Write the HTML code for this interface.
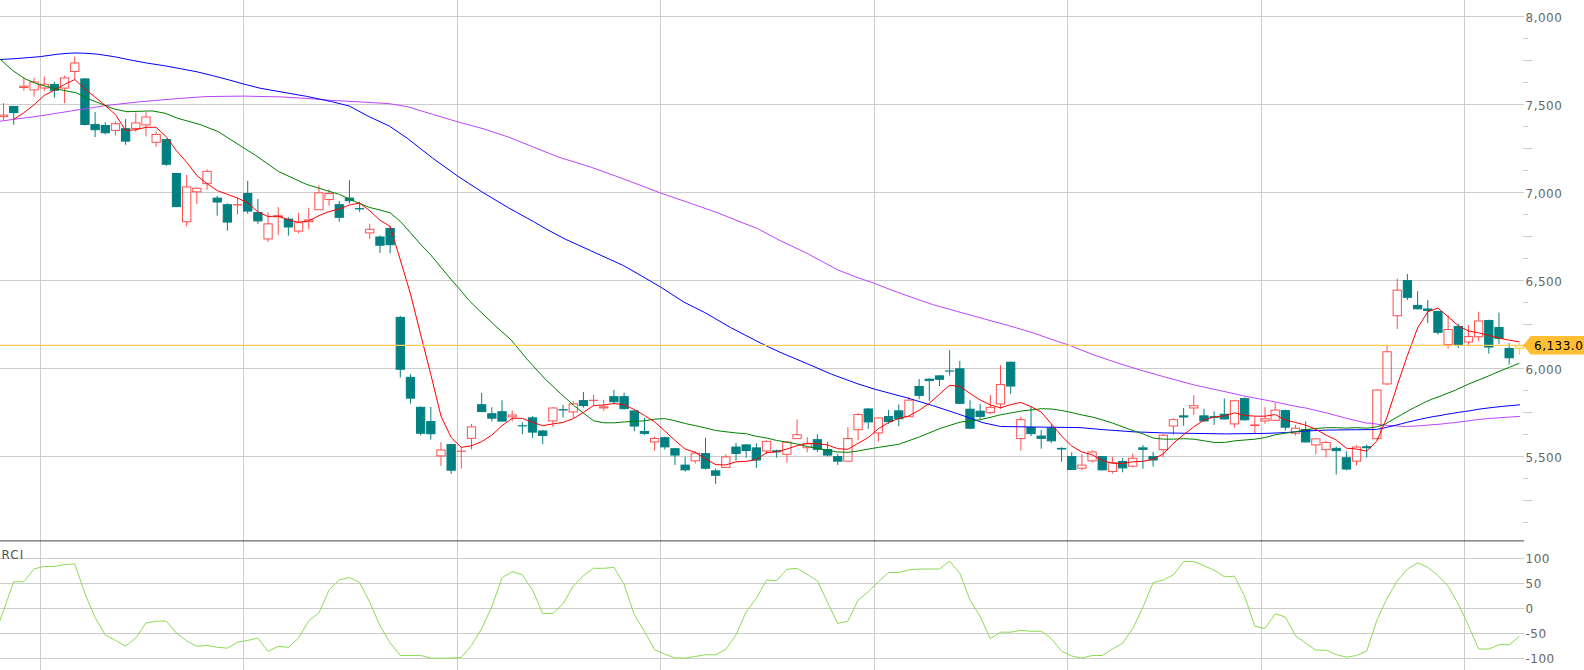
<!DOCTYPE html>
<html lang="ja"><head><meta charset="utf-8"><title>Chart</title>
<style>
html,body{margin:0;padding:0;background:#fff;overflow:hidden}
svg{display:block}
text{font-family:"DejaVu Sans","Liberation Sans",sans-serif;font-size:12px;fill:#666;letter-spacing:0.5px}
.g{stroke:#ccc;stroke-width:1;fill:none;shape-rendering:crispEdges}
.tk{stroke:#ccc;stroke-width:1;shape-rendering:crispEdges}
.ma{fill:none;stroke-width:1;stroke-linejoin:round}
.t rect{fill:#008080;stroke:#008080}
.t line{stroke:#008080}
.r rect{fill:none;stroke:#ff4e4e}
.r line{stroke:#ff4e4e}
.y rect{fill:none;stroke:#ffcc00}
.y line{stroke:#ffcc00}
</style></head><body>
<svg width="1584" height="670" viewBox="0 0 1584 670">
<rect width="1584" height="670" fill="#fff"/>
<g class="g">
<line x1="0" y1="16.5" x2="1524" y2="16.5"/>
<line x1="0" y1="104.5" x2="1524" y2="104.5"/>
<line x1="0" y1="192.5" x2="1524" y2="192.5"/>
<line x1="0" y1="280.5" x2="1524" y2="280.5"/>
<line x1="0" y1="368.5" x2="1524" y2="368.5"/>
<line x1="0" y1="456.5" x2="1524" y2="456.5"/>
<line x1="0" y1="558.5" x2="1524" y2="558.5"/>
<line x1="0" y1="583.5" x2="1524" y2="583.5"/>
<line x1="0" y1="608.5" x2="1524" y2="608.5"/>
<line x1="0" y1="633.5" x2="1524" y2="633.5"/>
<line x1="0" y1="658.5" x2="1524" y2="658.5"/>
<line x1="40.5" y1="0" x2="40.5" y2="670"/>
<line x1="243.5" y1="0" x2="243.5" y2="670"/>
<line x1="457.5" y1="0" x2="457.5" y2="670"/>
<line x1="660.5" y1="0" x2="660.5" y2="670"/>
<line x1="874.5" y1="0" x2="874.5" y2="670"/>
<line x1="1067.5" y1="0" x2="1067.5" y2="670"/>
<line x1="1261.5" y1="0" x2="1261.5" y2="670"/>
<line x1="1464.5" y1="0" x2="1464.5" y2="670"/>
</g>
<g class="tk">
<line x1="1523" y1="38.50" x2="1528" y2="38.50"/>
<line x1="1523" y1="60.50" x2="1532" y2="60.50"/>
<line x1="1523" y1="82.50" x2="1528" y2="82.50"/>
<line x1="1523" y1="126.50" x2="1528" y2="126.50"/>
<line x1="1523" y1="148.50" x2="1532" y2="148.50"/>
<line x1="1523" y1="170.50" x2="1528" y2="170.50"/>
<line x1="1523" y1="214.50" x2="1528" y2="214.50"/>
<line x1="1523" y1="236.50" x2="1532" y2="236.50"/>
<line x1="1523" y1="258.50" x2="1528" y2="258.50"/>
<line x1="1523" y1="302.50" x2="1528" y2="302.50"/>
<line x1="1523" y1="324.50" x2="1532" y2="324.50"/>
<line x1="1523" y1="346.50" x2="1528" y2="346.50"/>
<line x1="1523" y1="390.50" x2="1528" y2="390.50"/>
<line x1="1523" y1="412.50" x2="1532" y2="412.50"/>
<line x1="1523" y1="434.50" x2="1528" y2="434.50"/>
<line x1="1523" y1="478.50" x2="1528" y2="478.50"/>
<line x1="1523" y1="500.50" x2="1532" y2="500.50"/>
<line x1="1523" y1="522.50" x2="1528" y2="522.50"/>
</g>
<line x1="0" y1="540.9" x2="1524" y2="540.9" stroke="#444" stroke-width="1"/>
<g class="r"><line x1="3.55" y1="103.07" x2="3.55" y2="115.09"/><line x1="3.55" y1="116.63" x2="3.55" y2="120.30"/><rect x="-0.60" y="115.09" width="8.3" height="1.54"/></g>
<g class="t"><line x1="13.72" y1="105.96" x2="13.72" y2="124.75"/><rect x="9.57" y="106.46" width="8.3" height="6.11"/></g>
<g class="r"><line x1="23.90" y1="77.44" x2="23.90" y2="86.19"/><line x1="23.90" y1="87.47" x2="23.90" y2="90.76"/><rect x="19.75" y="86.19" width="8.3" height="1.28"/></g>
<g class="r"><line x1="34.07" y1="78.07" x2="34.07" y2="82.00"/><line x1="34.07" y1="89.88" x2="34.07" y2="96.73"/><rect x="29.92" y="82.00" width="8.3" height="7.88"/></g>
<g class="r"><line x1="44.24" y1="76.42" x2="44.24" y2="84.28"/><line x1="44.24" y1="87.98" x2="44.24" y2="90.76"/><rect x="40.09" y="84.28" width="8.3" height="3.70"/></g>
<g class="t"><line x1="54.41" y1="81.88" x2="54.41" y2="97.74"/><rect x="50.27" y="84.54" width="8.3" height="5.72"/></g>
<g class="r"><line x1="64.59" y1="75.53" x2="64.59" y2="77.94"/><line x1="64.59" y1="88.10" x2="64.59" y2="103.07"/><rect x="60.44" y="77.94" width="8.3" height="10.16"/></g>
<g class="r"><line x1="74.76" y1="56.50" x2="74.76" y2="62.96"/><line x1="74.76" y1="71.48" x2="74.76" y2="79.34"/><rect x="70.61" y="62.96" width="8.3" height="8.52"/></g>
<g class="t"><line x1="84.93" y1="78.07" x2="84.93" y2="125.38"/><rect x="80.78" y="78.95" width="8.3" height="45.55"/></g>
<g class="t"><line x1="95.11" y1="112.06" x2="95.11" y2="137.18"/><rect x="90.96" y="124.61" width="8.3" height="5.09"/></g>
<g class="t"><line x1="105.28" y1="122.21" x2="105.28" y2="134.52"/><rect x="101.13" y="125.50" width="8.3" height="7.25"/></g>
<g class="r"><line x1="115.45" y1="121.32" x2="115.45" y2="123.72"/><line x1="115.45" y1="130.34" x2="115.45" y2="135.53"/><rect x="111.30" y="123.72" width="8.3" height="6.62"/></g>
<g class="t"><line x1="125.63" y1="119.04" x2="125.63" y2="144.80"/><rect x="121.48" y="128.67" width="8.3" height="12.45"/></g>
<g class="r"><line x1="135.80" y1="112.69" x2="135.80" y2="122.96"/><line x1="135.80" y1="128.43" x2="135.80" y2="131.73"/><rect x="131.65" y="122.96" width="8.3" height="5.47"/></g>
<g class="r"><line x1="145.97" y1="112.06" x2="145.97" y2="117.00"/><line x1="145.97" y1="124.88" x2="145.97" y2="136.42"/><rect x="141.82" y="117.00" width="8.3" height="7.88"/></g>
<g class="r"><line x1="156.15" y1="131.47" x2="156.15" y2="134.51"/><line x1="156.15" y1="142.27" x2="156.15" y2="146.70"/><rect x="152.00" y="134.51" width="8.3" height="7.76"/></g>
<g class="t"><line x1="166.32" y1="138.71" x2="166.32" y2="165.92"/><rect x="162.17" y="139.59" width="8.3" height="24.69"/></g>
<g class="t"><line x1="176.49" y1="172.98" x2="176.49" y2="207.12"/><rect x="172.34" y="173.48" width="8.3" height="33.14"/></g>
<g class="r"><line x1="186.66" y1="174.95" x2="186.66" y2="186.94"/><line x1="186.66" y1="221.73" x2="186.66" y2="226.33"/><rect x="182.51" y="186.94" width="8.3" height="34.79"/></g>
<g class="r"><line x1="196.84" y1="187.43" x2="196.84" y2="188.25"/><line x1="196.84" y1="191.85" x2="196.84" y2="204.17"/><rect x="192.69" y="188.25" width="8.3" height="3.60"/></g>
<g class="r"><line x1="207.01" y1="169.37" x2="207.01" y2="171.35"/><line x1="207.01" y1="183.64" x2="207.01" y2="189.89"/><rect x="202.86" y="171.35" width="8.3" height="12.29"/></g>
<g class="t"><line x1="217.18" y1="195.96" x2="217.18" y2="215.66"/><rect x="213.03" y="198.10" width="8.3" height="3.93"/></g>
<g class="t"><line x1="227.36" y1="203.35" x2="227.36" y2="230.76"/><rect x="223.21" y="204.67" width="8.3" height="17.38"/></g>
<g class="r"><line x1="237.53" y1="197.60" x2="237.53" y2="204.67"/><line x1="237.53" y1="204.98" x2="237.53" y2="214.51"/><rect x="233.38" y="204.67" width="8.3" height="0.31"/></g>
<g class="t"><line x1="247.70" y1="180.86" x2="247.70" y2="213.69"/><rect x="243.55" y="193.51" width="8.3" height="17.55"/></g>
<g class="t"><line x1="257.88" y1="198.92" x2="257.88" y2="223.87"/><rect x="253.72" y="212.55" width="8.3" height="8.36"/></g>
<g class="r"><line x1="268.05" y1="212.38" x2="268.05" y2="223.87"/><line x1="268.05" y1="238.96" x2="268.05" y2="241.92"/><rect x="263.90" y="223.87" width="8.3" height="15.09"/></g>
<g class="r"><line x1="278.22" y1="207.12" x2="278.22" y2="215.83"/><line x1="278.22" y1="216.80" x2="278.22" y2="234.87"/><rect x="274.07" y="215.83" width="8.3" height="0.97"/></g>
<g class="t"><line x1="288.39" y1="217.30" x2="288.39" y2="235.69"/><rect x="284.24" y="219.11" width="8.3" height="7.87"/></g>
<g class="r"><line x1="298.57" y1="212.87" x2="298.57" y2="222.73"/><line x1="298.57" y1="231.08" x2="298.57" y2="233.22"/><rect x="294.42" y="222.73" width="8.3" height="8.35"/></g>
<g class="r"><line x1="308.74" y1="207.78" x2="308.74" y2="219.94"/><line x1="308.74" y1="221.73" x2="308.74" y2="229.28"/><rect x="304.59" y="219.94" width="8.3" height="1.79"/></g>
<g class="r"><line x1="318.91" y1="185.29" x2="318.91" y2="192.85"/><rect x="314.76" y="192.85" width="8.3" height="16.89"/></g>
<g class="r"><line x1="329.09" y1="189.40" x2="329.09" y2="193.51"/><line x1="329.09" y1="199.57" x2="329.09" y2="205.81"/><rect x="324.94" y="193.51" width="8.3" height="6.06"/></g>
<g class="t"><line x1="339.26" y1="201.21" x2="339.26" y2="221.73"/><rect x="335.11" y="204.67" width="8.3" height="12.62"/></g>
<g class="t"><line x1="349.43" y1="180.04" x2="349.43" y2="203.35"/><rect x="345.28" y="198.10" width="8.3" height="2.61"/></g>
<g class="t"><line x1="359.61" y1="201.71" x2="359.61" y2="211.88"/><rect x="355.46" y="208.61" width="8.3" height="0.31"/></g>
<g class="r"><line x1="369.78" y1="223.87" x2="369.78" y2="229.29"/><line x1="369.78" y1="232.89" x2="369.78" y2="239.13"/><rect x="365.63" y="229.29" width="8.3" height="3.60"/></g>
<g class="t"><line x1="379.95" y1="235.36" x2="379.95" y2="252.92"/><rect x="375.80" y="237.01" width="8.3" height="8.19"/></g>
<g class="t"><line x1="390.12" y1="225.51" x2="390.12" y2="253.41"/><rect x="385.97" y="228.47" width="8.3" height="16.24"/></g>
<g class="t"><line x1="400.30" y1="315.92" x2="400.30" y2="377.48"/><rect x="396.15" y="317.41" width="8.3" height="51.85"/></g>
<g class="t"><line x1="410.47" y1="374.20" x2="410.47" y2="403.55"/><rect x="406.32" y="377.32" width="8.3" height="20.80"/></g>
<g class="t"><line x1="420.64" y1="406.34" x2="420.64" y2="435.39"/><rect x="416.49" y="407.33" width="8.3" height="25.92"/></g>
<g class="t"><line x1="430.82" y1="406.83" x2="430.82" y2="439.66"/><rect x="426.67" y="421.61" width="8.3" height="12.13"/></g>
<g class="r"><line x1="440.99" y1="442.12" x2="440.99" y2="450.01"/><line x1="440.99" y1="455.91" x2="440.99" y2="465.76"/><rect x="436.84" y="450.01" width="8.3" height="5.90"/></g>
<g class="t"><line x1="451.16" y1="443.77" x2="451.16" y2="473.97"/><rect x="447.01" y="444.59" width="8.3" height="25.60"/></g>
<g class="r"><line x1="461.34" y1="447.05" x2="461.34" y2="451.15"/><line x1="461.34" y1="451.15" x2="461.34" y2="468.72"/><rect x="457.19" y="451.15" width="8.3" height="0.10"/></g>
<g class="r"><line x1="471.51" y1="424.07" x2="471.51" y2="426.87"/><line x1="471.51" y1="438.34" x2="471.51" y2="449.51"/><rect x="467.36" y="426.87" width="8.3" height="11.47"/></g>
<g class="t"><line x1="481.68" y1="392.88" x2="481.68" y2="412.08"/><rect x="477.53" y="404.71" width="8.3" height="6.87"/></g>
<g class="t"><line x1="491.85" y1="407.16" x2="491.85" y2="421.44"/><rect x="487.70" y="413.73" width="8.3" height="4.42"/></g>
<g class="t"><line x1="502.03" y1="400.27" x2="502.03" y2="421.61"/><rect x="497.88" y="411.76" width="8.3" height="9.35"/></g>
<g class="r"><line x1="512.20" y1="410.44" x2="512.20" y2="415.05"/><line x1="512.20" y1="416.84" x2="512.20" y2="421.44"/><rect x="508.05" y="415.05" width="8.3" height="1.79"/></g>
<g class="t"><line x1="522.37" y1="422.43" x2="522.37" y2="434.24"/><rect x="518.22" y="425.72" width="8.3" height="0.15"/></g>
<g class="t"><line x1="532.55" y1="416.19" x2="532.55" y2="437.86"/><rect x="528.40" y="417.84" width="8.3" height="14.26"/></g>
<g class="t"><line x1="542.72" y1="430.14" x2="542.72" y2="444.09"/><rect x="538.57" y="430.97" width="8.3" height="4.42"/></g>
<g class="r"><line x1="552.89" y1="407.16" x2="552.89" y2="407.99"/><line x1="552.89" y1="420.94" x2="552.89" y2="427.19"/><rect x="548.74" y="407.99" width="8.3" height="12.95"/></g>
<g class="t"><line x1="563.06" y1="404.70" x2="563.06" y2="417.34"/><rect x="558.91" y="409.63" width="8.3" height="0.31"/></g>
<g class="r"><line x1="573.24" y1="401.09" x2="573.24" y2="403.88"/><line x1="573.24" y1="411.91" x2="573.24" y2="417.83"/><rect x="569.09" y="403.88" width="8.3" height="8.03"/></g>
<g class="t"><line x1="583.41" y1="391.89" x2="583.41" y2="407.65"/><rect x="579.26" y="400.60" width="8.3" height="4.91"/></g>
<g class="r"><line x1="593.58" y1="394.85" x2="593.58" y2="400.27"/><line x1="593.58" y1="400.42" x2="593.58" y2="405.52"/><rect x="589.43" y="400.27" width="8.3" height="0.15"/></g>
<g class="r"><line x1="603.76" y1="399.77" x2="603.76" y2="406.84"/><line x1="603.76" y1="407.97" x2="603.76" y2="410.77"/><rect x="599.61" y="406.84" width="8.3" height="1.13"/></g>
<g class="t"><line x1="613.93" y1="389.92" x2="613.93" y2="404.37"/><rect x="609.78" y="396.66" width="8.3" height="5.08"/></g>
<g class="t"><line x1="624.10" y1="392.88" x2="624.10" y2="409.62"/><rect x="619.95" y="396.66" width="8.3" height="11.97"/></g>
<g class="t"><line x1="634.28" y1="410.11" x2="634.28" y2="431.29"/><rect x="630.13" y="410.94" width="8.3" height="15.09"/></g>
<g class="t"><line x1="644.45" y1="417.83" x2="644.45" y2="435.07"/><rect x="640.30" y="431.46" width="8.3" height="1.96"/></g>
<g class="r"><line x1="654.62" y1="436.71" x2="654.62" y2="438.52"/><line x1="654.62" y1="441.95" x2="654.62" y2="450.66"/><rect x="650.47" y="438.52" width="8.3" height="3.43"/></g>
<g class="t"><line x1="664.79" y1="436.71" x2="664.79" y2="449.51"/><rect x="660.64" y="437.70" width="8.3" height="9.18"/></g>
<g class="t"><line x1="674.97" y1="447.87" x2="674.97" y2="464.94"/><rect x="670.82" y="448.70" width="8.3" height="6.38"/></g>
<g class="t"><line x1="685.14" y1="456.73" x2="685.14" y2="471.51"/><rect x="680.99" y="465.11" width="8.3" height="4.75"/></g>
<g class="r"><line x1="695.31" y1="451.15" x2="695.31" y2="453.13"/><line x1="695.31" y1="460.83" x2="695.31" y2="463.46"/><rect x="691.16" y="453.13" width="8.3" height="7.70"/></g>
<g class="t"><line x1="705.49" y1="437.86" x2="705.49" y2="469.54"/><rect x="701.34" y="453.62" width="8.3" height="14.60"/></g>
<g class="t"><line x1="715.66" y1="468.39" x2="715.66" y2="483.98"/><rect x="711.51" y="470.86" width="8.3" height="4.41"/></g>
<g class="r"><line x1="725.83" y1="454.27" x2="725.83" y2="456.91"/><rect x="721.68" y="456.91" width="8.3" height="10.49"/></g>
<g class="t"><line x1="736.01" y1="442.94" x2="736.01" y2="460.51"/><rect x="731.86" y="447.06" width="8.3" height="6.38"/></g>
<g class="t"><line x1="746.18" y1="444.09" x2="746.18" y2="457.72"/><rect x="742.03" y="444.92" width="8.3" height="5.57"/></g>
<g class="t"><line x1="756.35" y1="443.27" x2="756.35" y2="467.90"/><rect x="752.20" y="447.88" width="8.3" height="12.13"/></g>
<g class="r"><line x1="766.52" y1="440.48" x2="766.52" y2="441.31"/><line x1="766.52" y1="450.98" x2="766.52" y2="453.94"/><rect x="762.38" y="441.31" width="8.3" height="9.67"/></g>
<g class="t"><line x1="776.70" y1="449.51" x2="776.70" y2="457.72"/><rect x="772.55" y="450.83" width="8.3" height="0.97"/></g>
<g class="r"><line x1="786.87" y1="441.30" x2="786.87" y2="442.13"/><line x1="786.87" y1="454.26" x2="786.87" y2="462.64"/><rect x="782.72" y="442.13" width="8.3" height="12.13"/></g>
<g class="r"><line x1="797.04" y1="419.47" x2="797.04" y2="434.74"/><rect x="792.89" y="434.74" width="8.3" height="3.93"/></g>
<g class="r"><line x1="807.22" y1="437.20" x2="807.22" y2="443.77"/><line x1="807.22" y1="447.70" x2="807.22" y2="452.30"/><rect x="803.07" y="443.77" width="8.3" height="3.93"/></g>
<g class="t"><line x1="817.39" y1="434.24" x2="817.39" y2="451.97"/><rect x="813.24" y="439.67" width="8.3" height="9.67"/></g>
<g class="t"><line x1="827.56" y1="442.12" x2="827.56" y2="456.41"/><rect x="823.41" y="449.52" width="8.3" height="5.56"/></g>
<g class="t"><line x1="837.74" y1="454.27" x2="837.74" y2="464.94"/><rect x="833.59" y="456.58" width="8.3" height="4.58"/></g>
<g class="r"><line x1="847.91" y1="427.19" x2="847.91" y2="438.52"/><rect x="843.76" y="438.52" width="8.3" height="22.64"/></g>
<g class="r"><line x1="858.08" y1="412.91" x2="858.08" y2="414.55"/><line x1="858.08" y1="429.64" x2="858.08" y2="440.32"/><rect x="853.93" y="414.55" width="8.3" height="15.09"/></g>
<g class="t"><line x1="868.25" y1="407.98" x2="868.25" y2="428.83"/><rect x="864.11" y="408.97" width="8.3" height="12.96"/></g>
<g class="r"><line x1="878.43" y1="417.17" x2="878.43" y2="418.00"/><line x1="878.43" y1="432.92" x2="878.43" y2="441.63"/><rect x="874.28" y="418.00" width="8.3" height="14.92"/></g>
<g class="t"><line x1="888.60" y1="409.84" x2="888.60" y2="423.79"/><rect x="884.45" y="416.58" width="8.3" height="5.07"/></g>
<g class="t"><line x1="898.77" y1="404.42" x2="898.77" y2="426.25"/><rect x="894.62" y="410.83" width="8.3" height="7.87"/></g>
<g class="r"><line x1="908.95" y1="396.71" x2="908.95" y2="400.16"/><rect x="904.80" y="400.16" width="8.3" height="16.57"/></g>
<g class="t"><line x1="919.12" y1="378.98" x2="919.12" y2="399.17"/><rect x="914.97" y="386.54" width="8.3" height="8.85"/></g>
<g class="t"><line x1="929.29" y1="378.32" x2="929.29" y2="400.81"/><rect x="925.14" y="379.15" width="8.3" height="1.46"/></g>
<g class="t"><line x1="939.47" y1="375.04" x2="939.47" y2="386.04"/><rect x="935.32" y="375.87" width="8.3" height="3.43"/></g>
<g class="t"><line x1="949.64" y1="350.25" x2="949.64" y2="375.70"/><rect x="945.49" y="370.94" width="8.3" height="0.15"/></g>
<g class="t"><line x1="959.81" y1="360.92" x2="959.81" y2="403.77"/><rect x="955.66" y="368.81" width="8.3" height="34.46"/></g>
<g class="t"><line x1="969.99" y1="400.32" x2="969.99" y2="428.72"/><rect x="965.84" y="409.19" width="8.3" height="19.03"/></g>
<g class="t"><line x1="980.16" y1="404.09" x2="980.16" y2="419.20"/><rect x="976.01" y="411.16" width="8.3" height="5.24"/></g>
<g class="r"><line x1="990.33" y1="395.07" x2="990.33" y2="407.38"/><line x1="990.33" y1="412.62" x2="990.33" y2="414.27"/><rect x="986.18" y="407.38" width="8.3" height="5.24"/></g>
<g class="r"><line x1="1000.50" y1="365.19" x2="1000.50" y2="384.57"/><line x1="1000.50" y1="403.92" x2="1000.50" y2="408.69"/><rect x="996.35" y="384.57" width="8.3" height="19.35"/></g>
<g class="t"><line x1="1010.68" y1="361.41" x2="1010.68" y2="393.92"/><rect x="1006.53" y="362.24" width="8.3" height="23.79"/></g>
<g class="r"><line x1="1020.85" y1="416.73" x2="1020.85" y2="419.70"/><line x1="1020.85" y1="438.56" x2="1020.85" y2="450.55"/><rect x="1016.70" y="419.70" width="8.3" height="18.86"/></g>
<g class="t"><line x1="1031.02" y1="406.56" x2="1031.02" y2="436.10"/><rect x="1026.87" y="427.57" width="8.3" height="6.06"/></g>
<g class="t"><line x1="1041.20" y1="430.14" x2="1041.20" y2="448.69"/><rect x="1037.05" y="436.06" width="8.3" height="2.28"/></g>
<g class="t"><line x1="1051.37" y1="424.40" x2="1051.37" y2="442.78"/><rect x="1047.22" y="428.18" width="8.3" height="12.62"/></g>
<g class="t"><line x1="1061.54" y1="447.38" x2="1061.54" y2="461.66"/><rect x="1057.39" y="448.37" width="8.3" height="0.64"/></g>
<g class="t"><line x1="1071.71" y1="452.30" x2="1071.71" y2="470.03"/><rect x="1067.56" y="456.58" width="8.3" height="12.95"/></g>
<g class="r"><line x1="1081.89" y1="453.94" x2="1081.89" y2="465.11"/><line x1="1081.89" y1="468.22" x2="1081.89" y2="470.36"/><rect x="1077.74" y="465.11" width="8.3" height="3.11"/></g>
<g class="r"><line x1="1092.06" y1="450.33" x2="1092.06" y2="451.98"/><line x1="1092.06" y1="460.83" x2="1092.06" y2="462.64"/><rect x="1087.91" y="451.98" width="8.3" height="8.85"/></g>
<g class="t"><line x1="1102.23" y1="456.08" x2="1102.23" y2="470.36"/><rect x="1098.08" y="456.58" width="8.3" height="13.28"/></g>
<g class="r"><line x1="1112.41" y1="456.73" x2="1112.41" y2="462.65"/><line x1="1112.41" y1="471.50" x2="1112.41" y2="473.64"/><rect x="1108.26" y="462.65" width="8.3" height="8.85"/></g>
<g class="t"><line x1="1122.58" y1="458.05" x2="1122.58" y2="472.33"/><rect x="1118.43" y="461.50" width="8.3" height="6.39"/></g>
<g class="r"><line x1="1132.75" y1="453.61" x2="1132.75" y2="458.22"/><line x1="1132.75" y1="466.25" x2="1132.75" y2="467.40"/><rect x="1128.60" y="458.22" width="8.3" height="8.03"/></g>
<g class="t"><line x1="1142.93" y1="444.91" x2="1142.93" y2="468.72"/><rect x="1138.78" y="447.88" width="8.3" height="1.46"/></g>
<g class="t"><line x1="1153.10" y1="451.97" x2="1153.10" y2="466.58"/><rect x="1148.95" y="456.58" width="8.3" height="3.43"/></g>
<g class="r"><line x1="1163.27" y1="433.75" x2="1163.27" y2="435.24"/><line x1="1163.27" y1="449.67" x2="1163.27" y2="457.23"/><rect x="1159.12" y="435.24" width="8.3" height="14.43"/></g>
<g class="r"><line x1="1173.44" y1="418.32" x2="1173.44" y2="419.64"/><line x1="1173.44" y1="426.03" x2="1173.44" y2="434.74"/><rect x="1169.29" y="419.64" width="8.3" height="6.39"/></g>
<g class="t"><line x1="1183.62" y1="407.98" x2="1183.62" y2="425.71"/><rect x="1179.47" y="415.87" width="8.3" height="1.13"/></g>
<g class="r"><line x1="1193.79" y1="395.18" x2="1193.79" y2="405.69"/><line x1="1193.79" y1="407.97" x2="1193.79" y2="414.88"/><rect x="1189.64" y="405.69" width="8.3" height="2.28"/></g>
<g class="t"><line x1="1203.96" y1="408.80" x2="1203.96" y2="421.93"/><rect x="1199.81" y="415.87" width="8.3" height="5.07"/></g>
<g class="t"><line x1="1214.14" y1="411.26" x2="1214.14" y2="424.89"/><rect x="1209.99" y="416.69" width="8.3" height="0.64"/></g>
<g class="t"><line x1="1224.31" y1="398.46" x2="1224.31" y2="419.47"/><rect x="1220.16" y="414.23" width="8.3" height="4.74"/></g>
<g class="r"><line x1="1234.48" y1="399.77" x2="1234.48" y2="400.77"/><line x1="1234.48" y1="423.90" x2="1234.48" y2="427.68"/><rect x="1230.33" y="400.77" width="8.3" height="23.13"/></g>
<g class="t"><line x1="1244.66" y1="397.31" x2="1244.66" y2="420.78"/><rect x="1240.51" y="398.63" width="8.3" height="21.16"/></g>
<g class="r"><line x1="1254.83" y1="417.01" x2="1254.83" y2="424.90"/><line x1="1254.83" y1="425.54" x2="1254.83" y2="433.10"/><rect x="1250.68" y="424.90" width="8.3" height="0.64"/></g>
<g class="r"><line x1="1265.00" y1="407.16" x2="1265.00" y2="418.82"/><line x1="1265.00" y1="420.94" x2="1265.00" y2="423.90"/><rect x="1260.85" y="418.82" width="8.3" height="2.12"/></g>
<g class="r"><line x1="1275.17" y1="402.73" x2="1275.17" y2="410.12"/><line x1="1275.17" y1="420.28" x2="1275.17" y2="421.11"/><rect x="1271.02" y="410.12" width="8.3" height="10.16"/></g>
<g class="t"><line x1="1285.35" y1="409.62" x2="1285.35" y2="430.47"/><rect x="1281.20" y="410.61" width="8.3" height="16.57"/></g>
<g class="r"><line x1="1295.52" y1="424.89" x2="1295.52" y2="428.18"/><line x1="1295.52" y1="433.25" x2="1295.52" y2="435.56"/><rect x="1291.37" y="428.18" width="8.3" height="5.07"/></g>
<g class="t"><line x1="1305.69" y1="421.44" x2="1305.69" y2="442.45"/><rect x="1301.54" y="429.49" width="8.3" height="12.46"/></g>
<g class="r"><line x1="1315.87" y1="438.02" x2="1315.87" y2="438.85"/><line x1="1315.87" y1="444.91" x2="1315.87" y2="454.44"/><rect x="1311.72" y="438.85" width="8.3" height="6.06"/></g>
<g class="r"><line x1="1326.04" y1="440.81" x2="1326.04" y2="442.46"/><line x1="1326.04" y1="449.67" x2="1326.04" y2="457.23"/><rect x="1321.89" y="442.46" width="8.3" height="7.21"/></g>
<g class="t"><line x1="1336.21" y1="446.56" x2="1336.21" y2="474.46"/><rect x="1332.06" y="448.37" width="8.3" height="2.28"/></g>
<g class="t"><line x1="1346.39" y1="451.48" x2="1346.39" y2="470.36"/><rect x="1342.24" y="457.73" width="8.3" height="11.31"/></g>
<g class="r"><line x1="1356.56" y1="445.24" x2="1356.56" y2="447.06"/><line x1="1356.56" y1="461.16" x2="1356.56" y2="465.43"/><rect x="1352.41" y="447.06" width="8.3" height="14.10"/></g>
<g class="t"><line x1="1366.73" y1="444.91" x2="1366.73" y2="457.55"/><rect x="1362.58" y="446.73" width="8.3" height="0.97"/></g>
<g class="r"><line x1="1376.90" y1="389.02" x2="1376.90" y2="390.01"/><line x1="1376.90" y1="438.67" x2="1376.90" y2="439.50"/><rect x="1372.75" y="390.01" width="8.3" height="48.66"/></g>
<g class="r"><line x1="1387.08" y1="344.70" x2="1387.08" y2="351.76"/><line x1="1387.08" y1="383.92" x2="1387.08" y2="385.41"/><rect x="1382.93" y="351.76" width="8.3" height="32.16"/></g>
<g class="r"><line x1="1397.25" y1="278.62" x2="1397.25" y2="290.12"/><line x1="1397.25" y1="315.71" x2="1397.25" y2="329.02"/><rect x="1393.10" y="290.12" width="8.3" height="25.59"/></g>
<g class="t"><line x1="1407.42" y1="274.03" x2="1407.42" y2="299.96"/><rect x="1403.27" y="280.60" width="8.3" height="16.73"/></g>
<g class="t"><line x1="1417.60" y1="291.26" x2="1417.60" y2="309.32"/><rect x="1413.45" y="305.39" width="8.3" height="3.43"/></g>
<g class="t"><line x1="1427.77" y1="299.96" x2="1427.77" y2="322.94"/><rect x="1423.62" y="309.00" width="8.3" height="1.46"/></g>
<g class="t"><line x1="1437.94" y1="310.96" x2="1437.94" y2="334.76"/><rect x="1433.79" y="311.46" width="8.3" height="20.83"/></g>
<g class="r"><line x1="1448.12" y1="315.07" x2="1448.12" y2="329.52"/><line x1="1448.12" y1="344.44" x2="1448.12" y2="348.72"/><rect x="1443.97" y="329.52" width="8.3" height="14.92"/></g>
<g class="t"><line x1="1458.29" y1="324.09" x2="1458.29" y2="347.90"/><rect x="1454.14" y="326.56" width="8.3" height="18.87"/></g>
<g class="r"><line x1="1468.46" y1="324.91" x2="1468.46" y2="336.58"/><line x1="1468.46" y1="341.98" x2="1468.46" y2="344.94"/><rect x="1464.31" y="336.58" width="8.3" height="5.40"/></g>
<g class="r"><line x1="1478.63" y1="311.78" x2="1478.63" y2="320.98"/><line x1="1478.63" y1="336.73" x2="1478.63" y2="341.33"/><rect x="1474.48" y="320.98" width="8.3" height="15.75"/></g>
<g class="t"><line x1="1488.81" y1="319.66" x2="1488.81" y2="353.64"/><rect x="1484.66" y="320.49" width="8.3" height="26.58"/></g>
<g class="t"><line x1="1498.98" y1="312.60" x2="1498.98" y2="343.79"/><rect x="1494.83" y="327.55" width="8.3" height="10.82"/></g>
<g class="t"><line x1="1509.15" y1="342.90" x2="1509.15" y2="364.50"/><rect x="1505.00" y="348.50" width="8.3" height="9.30"/></g>
<g class="y"><line x1="1519.33" y1="342.40" x2="1519.33" y2="345.80"/><line x1="1519.33" y1="348.30" x2="1519.33" y2="354.70"/><rect x="1515.18" y="345.80" width="8.3" height="2.50"/></g>
<polyline class="ma" stroke="#bd44fd" points="0.0,121.20 40.6,115.80 81.2,109.40 105.3,105.60 139.6,101.80 180.0,98.40 205.3,96.60 243.1,96.10 281.0,96.90 306.3,98.40 331.5,100.40 356.8,101.70 389.6,103.70 407.3,106.70 432.5,114.30 457.8,121.90 483.0,128.70 508.3,137.00 533.5,147.10 558.8,157.20 590.5,167.00 615.8,176.10 641.0,185.50 660.5,193.00 691.5,203.60 716.8,212.50 742.0,222.60 757.2,228.40 779.9,240.50 805.2,252.40 838.0,270.00 855.7,276.90 874.6,283.40 893.5,290.80 918.8,299.80 932.5,304.50 957.8,311.60 983.0,318.60 1008.3,325.50 1033.5,333.00 1058.8,341.90 1068.8,345.00 1093.4,354.80 1118.0,363.10 1140.0,370.00 1167.0,377.60 1194.3,385.00 1220.6,390.70 1245.2,396.20 1269.8,400.90 1300.0,407.20 1305.8,408.00 1326.3,412.90 1346.5,418.30 1366.8,423.20 1370.0,423.10 1376.3,424.00 1382.6,425.00 1388.9,425.50 1395.3,425.90 1401.6,426.30 1407.9,426.40 1414.2,426.10 1420.5,425.70 1426.8,425.20 1433.1,424.60 1440.0,424.20 1445.8,423.50 1452.6,422.80 1458.4,422.10 1464.6,421.40 1470.0,420.70 1477.9,419.50 1490.5,418.40 1503.1,417.50 1519.9,416.40"/>
<polyline class="ma" stroke="#0000ff" points="0.0,59.50 16.4,58.60 40.5,56.60 57.5,54.20 68.0,53.30 76.0,53.00 87.0,53.30 98.5,54.30 114.9,56.80 131.3,60.20 147.7,63.20 164.1,65.70 180.6,68.70 197.0,71.80 213.4,75.80 230.0,80.20 246.2,84.70 260.0,88.20 281.0,91.90 306.3,96.30 331.5,101.60 349.2,106.00 369.4,116.80 389.6,126.20 407.3,138.30 432.5,158.00 457.8,176.20 483.0,192.60 508.3,207.70 533.5,221.60 546.2,229.00 565.3,239.20 590.5,250.60 623.3,265.50 641.0,275.60 660.5,287.00 683.9,302.10 705.3,312.80 730.5,327.50 755.8,340.60 768.4,346.90 781.0,352.70 806.3,363.30 831.5,374.20 856.8,383.50 874.4,389.10 907.3,397.90 932.5,405.50 957.8,413.80 983.0,422.70 1000.7,426.50 1033.5,427.00 1080.0,427.60 1102.5,429.60 1133.0,431.80 1163.4,432.90 1193.8,433.40 1224.7,433.90 1265.2,433.40 1285.6,432.60 1305.8,431.00 1326.3,430.10 1370.0,429.60 1376.3,429.40 1382.6,428.30 1388.9,426.80 1395.3,425.30 1401.6,423.70 1407.9,422.10 1414.2,420.60 1420.5,419.20 1426.8,417.90 1433.1,416.60 1440.0,415.60 1445.8,414.40 1452.6,413.40 1458.4,412.40 1464.6,411.50 1470.0,410.80 1477.9,409.30 1490.5,407.70 1503.1,406.30 1519.9,404.80"/>
<polyline class="ma" stroke="#008000" points="0.0,59.00 12.7,70.50 25.4,79.00 38.0,84.20 50.8,87.60 63.5,90.40 76.0,92.70 88.8,99.00 101.5,104.00 114.2,109.00 127.0,111.70 152.0,110.90 165.0,113.20 177.7,118.30 200.0,124.50 217.9,131.50 243.1,147.50 255.8,155.50 278.5,171.50 306.3,184.30 329.0,191.30 339.3,194.30 349.4,199.00 359.6,203.50 369.8,207.50 380.0,210.00 390.1,212.80 400.3,221.30 410.5,232.80 420.6,244.30 430.8,255.00 441.0,267.30 451.2,279.60 461.3,291.10 468.6,300.00 478.5,309.80 494.9,325.40 511.3,340.20 527.7,359.90 544.1,378.00 560.6,393.60 573.5,405.20 583.5,413.20 593.7,420.80 603.9,422.80 614.2,422.80 624.4,421.90 634.4,421.40 644.6,420.80 654.8,419.10 664.8,418.65 675.0,420.78 685.5,423.58 695.5,425.71 705.7,428.01 715.7,430.47 725.9,431.78 736.2,432.93 746.4,433.75 756.5,436.38 766.7,438.02 776.7,440.48 786.9,442.12 797.3,444.09 807.3,446.56 817.4,448.20 827.6,450.33 837.8,451.97 848.1,452.30 858.3,450.99 868.5,449.02 878.5,447.38 898.7,444.31 919.4,436.92 939.4,428.72 959.9,422.15 980.5,419.69 1000.8,414.76 1020.8,411.15 1041.5,408.69 1051.5,409.02 1061.5,410.44 1071.7,412.58 1082.2,415.04 1092.2,417.01 1102.5,419.96 1112.6,423.08 1122.6,426.86 1133.1,430.63 1143.1,433.92 1153.3,438.02 1163.4,439.17 1173.6,439.17 1183.8,438.68 1193.8,439.17 1204.1,440.81 1214.3,442.45 1224.7,442.45 1234.7,440.81 1244.9,439.99 1255.0,439.17 1265.2,437.53 1275.4,434.74 1285.6,433.10 1295.6,431.78 1305.8,429.65 1316.1,428.50 1326.3,427.68 1336.6,427.68 1346.5,428.17 1356.7,427.68 1366.8,428.17 1370.0,427.80 1376.3,426.90 1382.6,425.00 1385.2,424.20 1388.9,421.80 1395.3,418.20 1401.6,414.60 1407.9,411.10 1414.2,407.60 1420.5,404.50 1426.8,401.30 1433.1,398.70 1440.0,396.30 1443.2,395.00 1455.8,390.00 1468.5,384.09 1478.6,379.99 1488.8,375.89 1499.0,371.45 1509.2,367.35 1519.3,363.25"/>
<polyline class="ma" stroke="#ff0000" points="13.7,119.31 23.9,112.72 34.1,104.72 44.2,95.46 54.4,90.13 64.6,84.42 74.8,79.59 84.9,88.86 95.1,97.11 105.3,105.61 115.5,114.59 125.6,130.46 135.8,129.82 146.0,127.28 156.1,127.28 166.3,136.80 176.5,150.76 186.7,162.31 196.8,175.44 207.0,183.65 217.2,190.54 227.4,194.32 237.5,198.10 247.7,202.86 257.9,211.88 268.0,216.48 278.2,216.15 288.4,219.76 298.6,222.23 308.7,220.91 318.9,215.66 329.1,211.56 339.3,209.09 349.4,204.99 359.6,203.02 369.8,210.74 380.0,220.26 390.1,226.33 400.3,259.90 410.5,294.00 420.6,334.30 430.8,374.40 441.0,416.19 451.2,437.53 461.3,447.38 471.5,445.74 481.7,441.63 491.9,435.07 502.0,425.71 512.2,418.32 522.4,418.32 532.5,422.43 542.7,425.71 552.9,423.90 563.1,422.43 573.2,418.65 583.4,412.41 593.6,405.52 603.8,405.03 613.9,403.55 624.1,404.70 634.3,409.62 644.4,415.37 654.6,421.93 664.8,430.96 675.0,440.48 685.1,449.02 695.3,452.30 705.5,458.87 715.7,464.61 725.8,464.94 736.0,461.82 746.2,461.33 756.4,459.69 766.5,452.63 776.7,451.81 786.9,449.02 797.0,445.74 807.2,443.27 817.4,443.77 827.6,444.91 837.7,448.69 847.9,449.35 858.1,443.27 868.3,437.53 878.4,428.72 888.6,422.48 898.8,418.54 908.9,415.91 919.1,410.33 929.3,403.27 939.5,394.24 949.6,385.22 959.8,386.37 970.0,393.42 980.2,399.99 990.3,404.91 1000.5,407.87 1010.7,404.59 1020.8,402.45 1031.0,406.56 1041.2,412.08 1051.4,423.90 1061.5,435.89 1071.7,446.06 1081.9,451.97 1092.1,454.76 1102.2,460.51 1112.4,463.30 1122.6,463.46 1132.8,461.82 1142.9,461.33 1153.1,459.20 1163.3,453.94 1173.4,443.27 1183.6,434.74 1193.8,426.86 1204.0,419.96 1214.1,417.01 1224.3,415.86 1234.5,412.91 1244.7,415.37 1254.8,416.19 1265.0,416.19 1275.2,414.55 1285.3,419.96 1295.5,422.43 1305.7,425.22 1315.9,429.32 1326.0,435.07 1336.2,439.99 1346.4,448.20 1356.6,449.02 1366.7,451.15 1376.9,441.00 1387.1,417.00 1397.3,385.20 1407.4,355.50 1417.6,328.00 1427.8,311.78 1437.9,308.01 1448.1,316.71 1458.3,325.74 1468.5,330.99 1478.6,332.79 1488.8,335.58 1499.0,338.05 1509.2,340.18 1519.3,341.82"/>
<polyline class="ma" stroke="#8cdc55" points="-6.6,638.00 3.5,610.71 13.7,581.71 23.9,581.71 34.1,568.86 44.2,566.48 54.4,566.48 64.6,564.64 74.8,563.91 84.9,593.64 95.1,617.50 105.3,634.94 115.5,640.45 125.6,646.14 135.8,638.06 146.0,623.01 156.1,621.17 166.3,621.17 176.5,633.11 186.7,641.00 196.8,646.32 207.0,645.40 217.2,647.24 227.4,648.16 237.5,642.28 247.7,640.45 257.9,638.06 268.0,651.46 278.2,646.32 288.4,647.42 298.6,638.06 308.7,620.81 318.9,612.91 329.1,589.97 339.3,579.88 349.4,577.49 359.6,582.26 369.8,602.45 380.0,625.76 390.1,642.83 400.3,655.50 410.5,655.50 420.6,655.50 430.8,658.07 441.0,658.25 451.2,658.07 461.3,657.33 471.5,645.40 481.7,628.52 491.9,606.49 502.0,577.67 512.2,571.62 522.4,574.92 532.5,589.97 542.7,613.47 552.9,613.47 563.1,603.74 573.2,586.30 583.4,575.65 593.6,568.31 603.8,568.31 613.9,567.39 624.1,584.46 634.3,614.75 644.4,631.27 654.6,649.63 664.8,654.21 675.0,657.89 685.1,658.07 695.3,656.42 705.5,654.77 715.7,654.77 725.8,649.26 736.0,634.94 746.2,611.63 756.4,598.23 766.5,580.06 776.7,580.79 786.9,569.23 797.0,568.31 807.2,574.37 817.4,580.79 827.6,602.45 837.7,623.56 847.9,621.17 858.1,600.07 868.3,591.81 878.4,581.71 888.6,572.53 898.8,572.53 908.9,569.78 919.1,569.05 929.3,569.05 939.5,569.05 949.6,560.97 959.8,573.45 970.0,600.07 980.2,616.59 990.3,638.61 1000.5,632.19 1010.7,632.19 1020.8,630.35 1031.0,631.27 1041.2,631.27 1051.4,638.61 1061.5,651.09 1071.7,656.05 1081.9,658.07 1092.1,655.50 1102.2,655.50 1112.4,649.07 1122.6,643.20 1132.8,628.52 1142.9,607.41 1153.1,582.63 1163.3,579.88 1173.4,574.92 1183.6,561.52 1193.8,561.52 1204.0,565.74 1214.1,570.15 1224.3,576.75 1234.5,576.20 1244.7,596.40 1254.8,626.13 1265.0,628.52 1275.2,613.83 1285.3,616.95 1295.5,635.86 1305.7,643.20 1315.9,650.18 1326.0,650.18 1336.2,654.58 1346.4,657.15 1356.6,655.50 1366.7,651.09 1376.9,620.26 1387.1,598.23 1397.3,580.79 1407.4,569.00 1417.6,562.90 1427.8,567.30 1437.9,575.40 1448.1,586.30 1458.3,604.10 1468.5,625.60 1478.6,649.00 1488.8,649.00 1499.0,644.70 1509.2,644.70 1519.3,636.30"/>
<line x1="0" y1="345.3" x2="1524" y2="345.3" stroke="#ffcc55" stroke-width="1.2"/>
<text x="1525.5" y="21.9">8,000</text>
<text x="1525.5" y="109.9">7,500</text>
<text x="1525.5" y="197.9">7,000</text>
<text x="1525.5" y="285.9">6,500</text>
<text x="1525.5" y="373.9">6,000</text>
<text x="1525.5" y="461.9">5,500</text>
<text x="1525.5" y="562.8">100</text>
<text x="1525.5" y="587.8">50</text>
<text x="1525.5" y="612.8">0</text>
<text x="1525.5" y="637.8">-50</text>
<text x="1525.5" y="662.8">-100</text>
<text x="1.5" y="558.7" style="fill:#555;letter-spacing:1.1px">RCI</text>
<polygon points="1523.2,345.2 1530.5,336 1584,336 1584,354.4 1530.5,354.4" fill="#ffbf35"/>
<text x="1534" y="349.7" style="fill:#000">6,133.0</text>
</svg>
</body></html>
